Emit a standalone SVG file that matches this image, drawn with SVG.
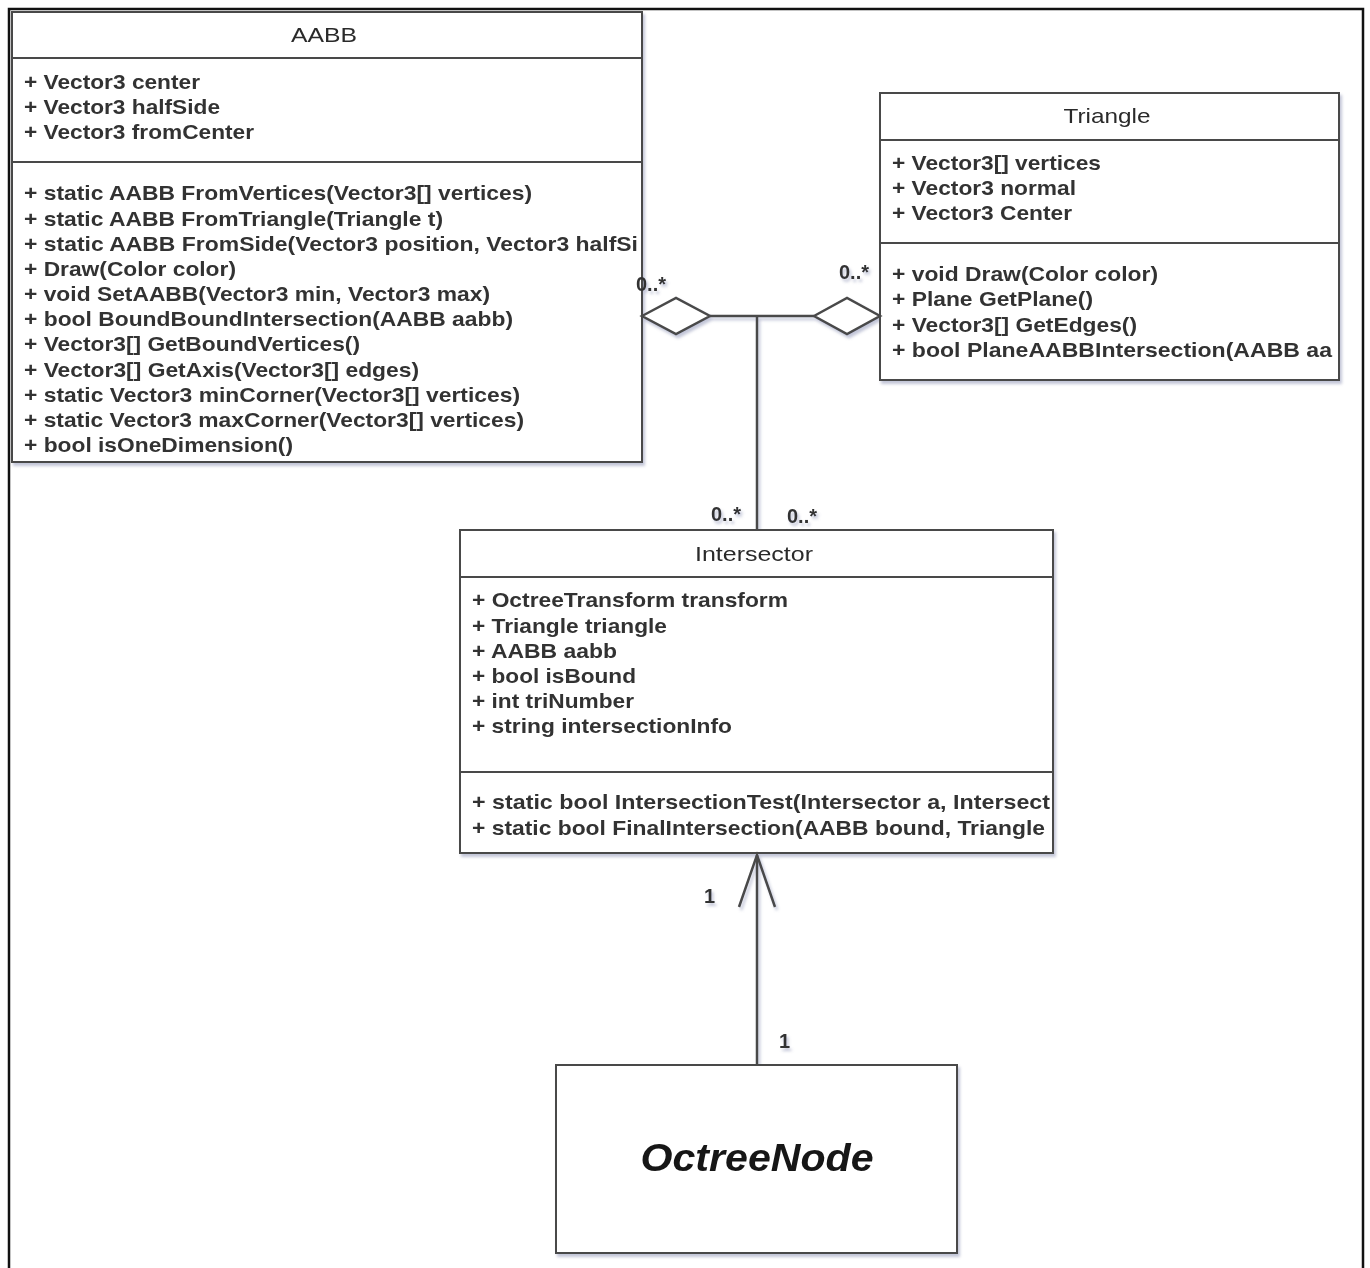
<svg xmlns="http://www.w3.org/2000/svg" width="1370" height="1268" viewBox="0 0 1370 1268">
  <defs>
    <filter id="shadow" x="-5%" y="-5%" width="110%" height="110%">
      <feDropShadow dx="2" dy="3" stdDeviation="1.6" flood-color="#7880a8" flood-opacity="0.45"/>
    </filter>
    <clipPath id="clipAABB"><rect x="12" y="12" width="628" height="450"/></clipPath>
    <clipPath id="clipTri"><rect x="880" y="93" width="457" height="287"/></clipPath>
    <clipPath id="clipInt"><rect x="460" y="530" width="591" height="323"/></clipPath>
  </defs>
  <style>
    .box { fill: #ffffff; stroke: #4a4a4a; stroke-width: 2; }
    .sep { stroke: #4a4a4a; stroke-width: 2; }
    .title { font-family: "Liberation Sans", Arial, sans-serif; font-size: 21px; fill: #2a2a2a; text-anchor: middle; }
    .member { font-family: "Liberation Sans", Arial, sans-serif; font-size: 21px; font-weight: bold; fill: #333333; }
    .mult { font-family: "Liberation Sans", Arial, sans-serif; font-size: 20px; font-weight: bold; fill: #333333; }
    .edge { fill: none; stroke: #4a4a4a; stroke-width: 2.5; }
    .diamond { fill: #ffffff; stroke: #4a4a4a; stroke-width: 2.5; }
    .frame { fill: none; stroke: #111111; stroke-width: 2.5; }
  </style>

  <rect x="0" y="0" width="1370" height="1268" fill="#ffffff"/>
  <!-- outer page frame, open at the bottom -->
  <path class="frame" d="M9,1268 V9 H1363 V1268"/>

  <g filter="url(#shadow)">
    <!-- AABB class -->
    <g id="aabb">
      <rect class="box" x="12" y="12" width="630" height="450"/>
      <line class="sep" x1="12" y1="58" x2="642" y2="58"/>
      <line class="sep" x1="12" y1="162" x2="642" y2="162"/>
      <text class="title" x="324" y="42" textLength="66" lengthAdjust="spacingAndGlyphs">AABB</text>
      <g clip-path="url(#clipAABB)">
        <text class="member" x="24" y="89" textLength="176" lengthAdjust="spacingAndGlyphs">+ Vector3 center</text>
        <text class="member" x="24" y="114" textLength="196" lengthAdjust="spacingAndGlyphs">+ Vector3 halfSide</text>
        <text class="member" x="24" y="139" textLength="230" lengthAdjust="spacingAndGlyphs">+ Vector3 fromCenter</text>
        <text class="member" x="24" y="200" textLength="508" lengthAdjust="spacingAndGlyphs">+ static AABB FromVertices(Vector3[] vertices)</text>
        <text class="member" x="24" y="226" textLength="419" lengthAdjust="spacingAndGlyphs">+ static AABB FromTriangle(Triangle t)</text>
        <text class="member" x="24" y="251" textLength="614" lengthAdjust="spacingAndGlyphs">+ static AABB FromSide(Vector3 position, Vector3 halfSi</text>
        <text class="member" x="24" y="276" textLength="212" lengthAdjust="spacingAndGlyphs">+ Draw(Color color)</text>
        <text class="member" x="24" y="301" textLength="466" lengthAdjust="spacingAndGlyphs">+ void SetAABB(Vector3 min, Vector3 max)</text>
        <text class="member" x="24" y="326" textLength="489" lengthAdjust="spacingAndGlyphs">+ bool BoundBoundIntersection(AABB aabb)</text>
        <text class="member" x="24" y="351" textLength="336" lengthAdjust="spacingAndGlyphs">+ Vector3[] GetBoundVertices()</text>
        <text class="member" x="24" y="377" textLength="395" lengthAdjust="spacingAndGlyphs">+ Vector3[] GetAxis(Vector3[] edges)</text>
        <text class="member" x="24" y="402" textLength="496" lengthAdjust="spacingAndGlyphs">+ static Vector3 minCorner(Vector3[] vertices)</text>
        <text class="member" x="24" y="427" textLength="500" lengthAdjust="spacingAndGlyphs">+ static Vector3 maxCorner(Vector3[] vertices)</text>
        <text class="member" x="24" y="452" textLength="269" lengthAdjust="spacingAndGlyphs">+ bool isOneDimension()</text>
      </g>
    </g>

    <!-- Triangle class -->
    <g id="triangle">
      <rect class="box" x="880" y="93" width="459" height="287"/>
      <line class="sep" x1="880" y1="140" x2="1339" y2="140"/>
      <line class="sep" x1="880" y1="243" x2="1339" y2="243"/>
      <text class="title" x="1107" y="123" textLength="87" lengthAdjust="spacingAndGlyphs">Triangle</text>
      <g clip-path="url(#clipTri)">
        <text class="member" x="892" y="170" textLength="209" lengthAdjust="spacingAndGlyphs">+ Vector3[] vertices</text>
        <text class="member" x="892" y="195" textLength="184" lengthAdjust="spacingAndGlyphs">+ Vector3 normal</text>
        <text class="member" x="892" y="220" textLength="180" lengthAdjust="spacingAndGlyphs">+ Vector3 Center</text>
        <text class="member" x="892" y="281" textLength="266" lengthAdjust="spacingAndGlyphs">+ void Draw(Color color)</text>
        <text class="member" x="892" y="306" textLength="201" lengthAdjust="spacingAndGlyphs">+ Plane GetPlane()</text>
        <text class="member" x="892" y="332" textLength="245" lengthAdjust="spacingAndGlyphs">+ Vector3[] GetEdges()</text>
        <text class="member" x="892" y="357" textLength="440" lengthAdjust="spacingAndGlyphs">+ bool PlaneAABBIntersection(AABB aa</text>
      </g>
    </g>

    <!-- Intersector class -->
    <g id="intersector">
      <rect class="box" x="460" y="530" width="593" height="323"/>
      <line class="sep" x1="460" y1="577" x2="1053" y2="577"/>
      <line class="sep" x1="460" y1="772" x2="1053" y2="772"/>
      <text class="title" x="754" y="561" textLength="118" lengthAdjust="spacingAndGlyphs">Intersector</text>
      <g clip-path="url(#clipInt)">
        <text class="member" x="472" y="607" textLength="316" lengthAdjust="spacingAndGlyphs">+ OctreeTransform transform</text>
        <text class="member" x="472" y="633" textLength="195" lengthAdjust="spacingAndGlyphs">+ Triangle triangle</text>
        <text class="member" x="472" y="658" textLength="145" lengthAdjust="spacingAndGlyphs">+ AABB aabb</text>
        <text class="member" x="472" y="683" textLength="164" lengthAdjust="spacingAndGlyphs">+ bool isBound</text>
        <text class="member" x="472" y="708" textLength="162" lengthAdjust="spacingAndGlyphs">+ int triNumber</text>
        <text class="member" x="472" y="733" textLength="260" lengthAdjust="spacingAndGlyphs">+ string intersectionInfo</text>
        <text class="member" x="472" y="809" textLength="578" lengthAdjust="spacingAndGlyphs">+ static bool IntersectionTest(Intersector a, Intersect</text>
        <text class="member" x="472" y="835" textLength="573" lengthAdjust="spacingAndGlyphs">+ static bool FinalIntersection(AABB bound, Triangle</text>
      </g>
    </g>

    <!-- OctreeNode class -->
    <g id="octreenode">
      <rect class="box" x="556" y="1065" width="401" height="188"/>
      <text x="757" y="1171" text-anchor="middle" font-family="Liberation Sans, Arial, sans-serif" font-size="38" font-style="italic" font-weight="bold" fill="#151515" textLength="233" lengthAdjust="spacingAndGlyphs">OctreeNode</text>
    </g>

    <!-- connectors -->
    <g id="connectors">
      <!-- aggregation: AABB / Triangle shared by Intersector -->
      <line class="edge" x1="710" y1="316" x2="814" y2="316"/>
      <line class="edge" x1="757" y1="316" x2="757" y2="530"/>
      <polygon class="diamond" points="642,316 676,298 710,316 676,334"/>
      <polygon class="diamond" points="814,316 847,298 880,316 847,334"/>
      <!-- association: OctreeNode to Intersector -->
      <line class="edge" x1="757" y1="1065" x2="757" y2="855"/>
      <polyline class="edge" points="739,907 757,855 775,907"/>
      <!-- multiplicities -->
      <text class="mult" x="636" y="291">0..*</text>
      <text class="mult" x="839" y="279">0..*</text>
      <text class="mult" x="711" y="521">0..*</text>
      <text class="mult" x="787" y="523">0..*</text>
      <text class="mult" x="704" y="903">1</text>
      <text class="mult" x="779" y="1048">1</text>
    </g>
  </g>
</svg>
